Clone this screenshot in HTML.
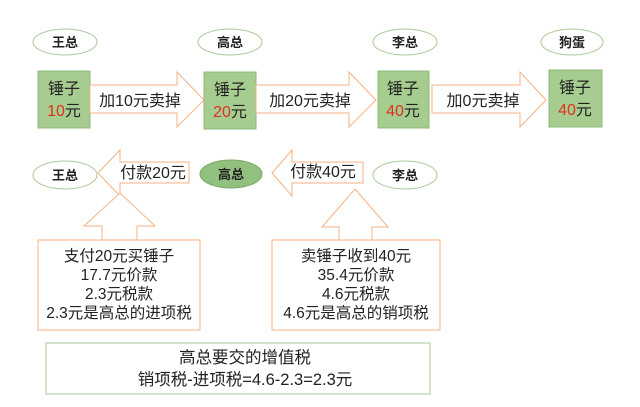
<!DOCTYPE html>
<html><head><meta charset="utf-8"><style>
html,body{margin:0;padding:0;background:#fff;}
svg{display:block;font-family:"Liberation Sans","Noto Sans CJK SC",sans-serif;}
</style></head><body>
<svg width="640" height="407" viewBox="0 0 640 407" xmlns="http://www.w3.org/2000/svg">
<rect width="640" height="407" fill="#fff"/>
<g fill="#fff" stroke="#a9c99a" stroke-width="1">
<ellipse cx="65" cy="42" rx="32" ry="13"/>
<ellipse cx="230" cy="42" rx="32" ry="13"/>
<ellipse cx="405" cy="42" rx="32" ry="13"/>
<ellipse cx="572" cy="42" rx="31" ry="13"/>
<ellipse cx="65" cy="175" rx="32" ry="14"/>
<ellipse cx="405" cy="175" rx="32" ry="14"/>
</g>
<ellipse cx="231" cy="174" rx="31" ry="14" fill="#92c07f" stroke="#7aa868"/>
<g font-size="13" font-weight="bold" text-anchor="middle" fill="#222">
<text x="65" y="47">王总</text><text x="230" y="47">高总</text><text x="405" y="47">李总</text><text x="572" y="47">狗蛋</text>
<text x="65" y="180">王总</text><text x="231" y="179">高总</text><text x="405" y="180">李总</text>
</g>
<g fill="#a6cd8f" stroke="#8fb87b">
<rect x="38" y="71" width="52" height="57"/>
<rect x="204" y="72" width="52" height="57"/>
<rect x="378" y="71" width="51" height="57"/>
<rect x="549" y="70" width="53" height="57"/>
</g>
<g font-size="16" text-anchor="middle" fill="#222">
<text x="64" y="94">锤子</text><text x="64" y="116"><tspan fill="#e03020">10</tspan>元</text>
<text x="230" y="95">锤子</text><text x="230" y="117"><tspan fill="#e03020">20</tspan>元</text>
<text x="403" y="94">锤子</text><text x="403" y="116"><tspan fill="#e03020">40</tspan>元</text>
<text x="575" y="93">锤子</text><text x="575" y="115"><tspan fill="#e03020">40</tspan>元</text>
</g>
<g fill="#fff" stroke="#f4b183" stroke-width="1">
<polygon points="90,85 177,85 177,72 204,100 177,127 177,113 90,113"/>
<polygon points="256,85 349,85 349,72 376,100 349,127 349,113 256,113"/>
<polygon points="432,85 520,85 520,72 546,100 520,127 520,113 432,113"/>
<polygon points="98,173 120,150 120,162 189,162 189,183 120,183 120,196"/>
<polygon points="272,173 292,150 292,162 363,162 363,183 292,183 292,196"/>
<polygon points="120,193 155,226 137,226 137,240 102,240 102,226 84,226"/>
<polygon points="355,189 388,227 372,227 372,240 339,240 339,227 322,227"/>
<rect x="38" y="240" width="162" height="90"/>
<rect x="272" y="240" width="168" height="90"/>
</g>
<rect x="46" y="343" width="384" height="51" fill="#fff" stroke="#a9c99a"/>
<g font-size="16" fill="#222" text-anchor="middle">
<text x="140" y="106">加10元卖掉</text>
<text x="310" y="106">加20元卖掉</text>
<text x="483" y="106">加0元卖掉</text>
<text x="153" y="178">付款20元</text>
<text x="323" y="177">付款40元</text>
</g>
<g font-size="15.5" fill="#222" text-anchor="middle">
<text x="119" y="261">支付20元买锤子</text>
<text x="119" y="280">17.7元价款</text>
<text x="119" y="299">2.3元税款</text>
<text x="119" y="318">2.3元是高总的进项税</text>
<text x="356" y="261">卖锤子收到40元</text>
<text x="356" y="280">35.4元价款</text>
<text x="356" y="299">4.6元税款</text>
<text x="356" y="318">4.6元是高总的销项税</text>
</g>
<g font-size="16.5" fill="#222" text-anchor="middle">
<text x="245" y="363">高总要交的增值税</text>
<text x="245" y="385">销项税-进项税=4.6-2.3=2.3元</text>
</g>
</svg>
</body></html>
